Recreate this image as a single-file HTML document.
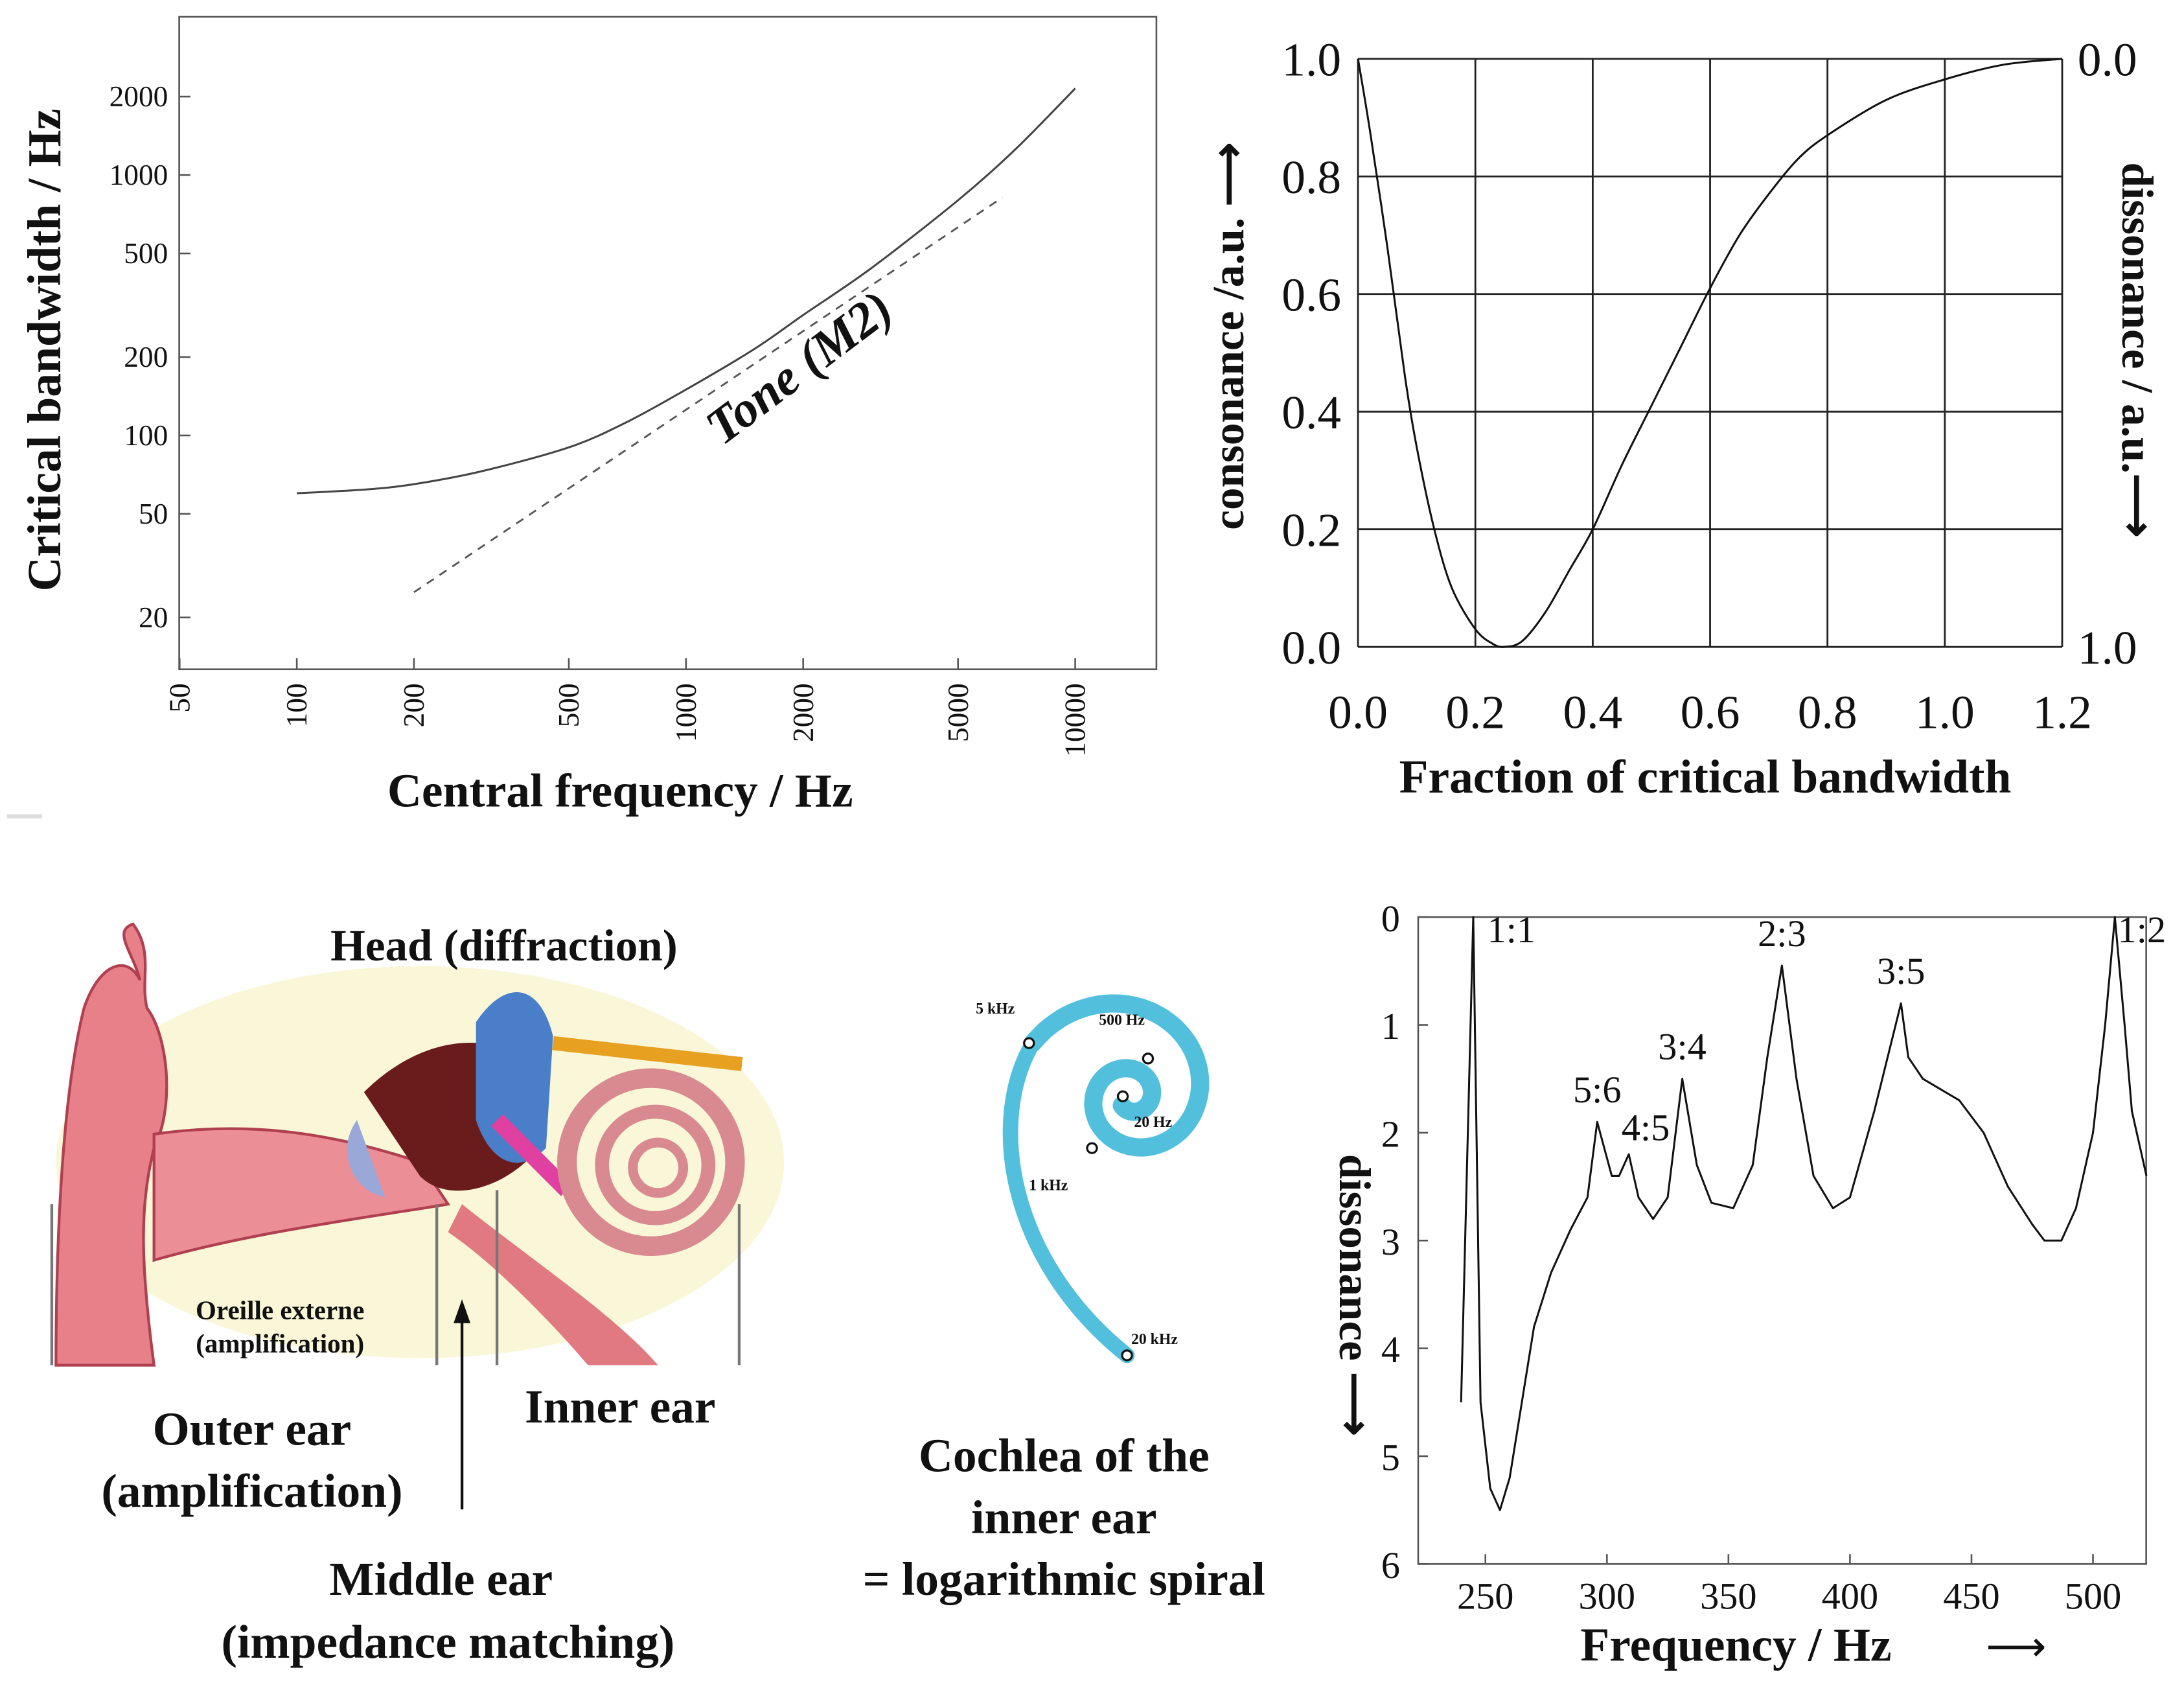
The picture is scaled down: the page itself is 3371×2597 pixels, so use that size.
<!DOCTYPE html>
<html><head><meta charset="utf-8"><style>
html,body{margin:0;padding:0;background:#fff}
svg{display:block}
text{font-family:"Liberation Serif",serif;fill:#111}
</style></head><body>
<svg id="s" width="3371" height="2597" viewBox="0 0 1560 1202" preserveAspectRatio="none" xmlns="http://www.w3.org/2000/svg">
<rect x="0" y="0" width="1560" height="1202" fill="#fff"/>
<line x1="5" y1="583" x2="30" y2="583" stroke="#ddd" stroke-width="3"/>
<g id="tl">
<rect x="128" y="12" width="698" height="466" fill="none" stroke="#555" stroke-width="1.2"/>
<text x="33" y="250" font-size="34" font-weight="bold" text-anchor="middle" transform="rotate(-90 33 250)" dy="10">Critical bandwidth / Hz</text>
<text x="443" y="576" font-size="34" font-weight="bold" text-anchor="middle">Central frequency / Hz</text>
<text x="578" y="272" font-size="36" font-weight="bold" font-style="italic" text-anchor="middle" transform="rotate(-37 578 272)">Tone (M2)</text>
</g>
<g id="tr">
<text x="888" y="240" font-size="32" font-weight="bold" text-anchor="middle" transform="rotate(-90 888 240)">consonance /a.u. ⟶</text>
<text x="1516" y="250" font-size="32" font-weight="bold" text-anchor="middle" transform="rotate(90 1516 250)">dissonance / a.u.⟶</text>
<text x="1218" y="566" font-size="34" font-weight="bold" text-anchor="middle">Fraction of critical bandwidth</text>
</g>
<g id="br">
<rect x="1013" y="655" width="520" height="462" fill="none" stroke="#555" stroke-width="1.2"/>
<text x="955" y="925" font-size="32" font-weight="bold" text-anchor="middle" transform="rotate(90 955 925)" dy="-2">dissonance ⟶</text>
<text x="1240" y="1186" font-size="34" font-weight="bold" text-anchor="middle">Frequency / Hz</text>
<text x="1440" y="1186" font-size="30" text-anchor="middle">⟶</text>
</g>
<g>
<ellipse cx="300" cy="830" rx="260" ry="140" fill="#f6f3c8" opacity="0.7"/>
<path d="M40 975 C40 880 45 780 60 720 C70 690 90 680 100 700 C95 680 80 665 95 660 C110 680 100 700 105 720 C120 740 125 790 110 820 C100 860 100 900 110 975 Z" fill="#e8808a" stroke="#b04050" stroke-width="2"/>
<path d="M110 810 C180 800 240 810 300 830 L320 860 C260 870 180 880 110 900 Z" fill="#ec8e96" stroke="#b04050" stroke-width="2"/>
<path d="M260 780 C300 740 350 735 380 760 L385 820 C360 850 320 860 300 840 Z" fill="#6a1b1b"/>
<path d="M340 730 C360 700 385 700 395 740 L390 820 C370 840 350 830 340 800 Z" fill="#4a7ec8"/>
<path d="M355 800 L405 850" stroke="#e040a0" stroke-width="12"/>
<path d="M330 860 C380 900 440 940 470 975 L420 975 C390 940 350 900 320 880 Z" fill="#e07a80"/>
<path d="M395 745 L530 760" stroke="#e8a020" stroke-width="10"/>
<circle cx="465" cy="830" r="60" fill="none" stroke="#d88a90" stroke-width="14"/>
<circle cx="468" cy="832" r="38" fill="none" stroke="#d88a90" stroke-width="10"/>
<circle cx="470" cy="834" r="18" fill="none" stroke="#d88a90" stroke-width="7"/>
<path d="M255 800 C240 820 250 850 275 855" fill="#9aa8d8"/>
<line x1="37" y1="860" x2="37" y2="975" stroke="#777" stroke-width="2"/>
<line x1="312" y1="860" x2="312" y2="975" stroke="#777" stroke-width="2"/>
<line x1="355" y1="850" x2="355" y2="975" stroke="#777" stroke-width="2"/>
<line x1="528" y1="860" x2="528" y2="975" stroke="#777" stroke-width="2"/>
<text x="360" y="686" font-size="32" font-weight="bold" text-anchor="middle">Head (diffraction)</text>
<text x="200" y="942" font-size="19" font-weight="bold" text-anchor="middle">Oreille externe</text>
<text x="200" y="966" font-size="19" font-weight="bold" text-anchor="middle">(amplification)</text>
<text x="180" y="1032" font-size="34" font-weight="bold" text-anchor="middle">Outer ear</text>
<text x="180" y="1076" font-size="34" font-weight="bold" text-anchor="middle">(amplification)</text>
<text x="443" y="1016" font-size="34" font-weight="bold" text-anchor="middle">Inner ear</text>
<text x="315" y="1139" font-size="34" font-weight="bold" text-anchor="middle">Middle ear</text>
<text x="320" y="1184" font-size="34" font-weight="bold" text-anchor="middle">(impedance matching)</text>
<line x1="330" y1="1078" x2="330" y2="940" stroke="#111" stroke-width="2"/>
<path d="M324 945 L330 928 L336 945 Z" fill="#111"/>
</g>
<g id="coch">
<text x="760" y="1051" font-size="34" font-weight="bold" text-anchor="middle">Cochlea of the</text>
<text x="760" y="1095" font-size="34" font-weight="bold" text-anchor="middle">inner ear</text>
<text x="760" y="1139" font-size="34" font-weight="bold" text-anchor="middle">= logarithmic spiral</text>
</g>
</svg>
<script>
const tlYTicks=[2000,1000,500,200,100,50,20];
const tlXTicks=[50,100,200,500,1000,2000,5000,10000];
const tlSolidF=[100,150,200,300,500,700,1000,1500,2000,3000,5000,7000,10000];
const tlSolidBW=[60,62,65,73,90,112,150,215,290,440,800,1250,2150];
const tlDashF=[200,6500];
const tlDashBW=[25,820];
const trTicks=[0.0,0.2,0.4,0.6,0.8,1.0,1.2];
const trYTicks=[0.0,0.2,0.4,0.6,0.8,1.0];
const trX=[0,0.02,0.05,0.08,0.1,0.13,0.16,0.2,0.23,0.25,0.28,0.32,0.36,0.4,0.45,0.5,0.55,0.6,0.65,0.7,0.75,0.8,0.9,1.0,1.1,1.2];
const trY=[1.0,0.88,0.68,0.46,0.34,0.2,0.1,0.03,0.005,0.0,0.01,0.06,0.13,0.2,0.31,0.41,0.51,0.61,0.7,0.77,0.83,0.87,0.93,0.965,0.99,1.0];
const brXTicks=[250,300,350,400,450,500];
const brYTicks=[0,1,2,3,4,5,6];
const brF=[240,245,248,252,256,260,265,270,277,285,292,296,302,305,309,313,319,325,331,337,343,352,360,366,372,378,385,393,400,410,421,424,430,445,455,465,475,480,487,493,500,505,509,513,516,522];
const brD=[4.5,0,4.5,5.3,5.5,5.2,4.5,3.8,3.3,2.9,2.6,1.9,2.4,2.4,2.2,2.6,2.8,2.6,1.5,2.3,2.65,2.7,2.3,1.3,0.45,1.5,2.4,2.7,2.6,1.8,0.8,1.3,1.5,1.7,2.0,2.5,2.85,3.0,3.0,2.7,2.0,1.0,0.0,1.0,1.8,2.4];
const brLabels=["1:1","2:3","3:5","3:4","5:6","4:5","1:2"];
const brLabelF=[245,372,421,331,296,309,509];
const brLabelD=[0,0.45,0.8,1.5,1.9,2.2,0];

const NS="http://www.w3.org/2000/svg";
function mk(parent,tag,attrs,txt){const e=document.createElementNS(NS,tag);for(const k in attrs)e.setAttribute(k,attrs[k]);if(txt!==undefined)e.textContent=txt;parent.appendChild(e);return e;}
function smooth(pts,tension){
 let d='M'+pts[0][0]+','+pts[0][1];
 for(let i=0;i<pts.length-1;i++){
  const p0=pts[Math.max(0,i-1)],p1=pts[i],p2=pts[i+1],p3=pts[Math.min(pts.length-1,i+2)];
  const t=tension;
  const c1=[p1[0]+(p2[0]-p0[0])*t,p1[1]+(p2[1]-p0[1])*t];
  const c2=[p2[0]-(p3[0]-p1[0])*t,p2[1]-(p3[1]-p1[1])*t];
  d+=' C'+c1[0]+','+c1[1]+' '+c2[0]+','+c2[1]+' '+p2[0]+','+p2[1];
 }
 return d;
}
const xL=f=>212+278*Math.log10(f/100), yL=v=>311-186*Math.log10(v/100);
const xR=x=>970+x/1.2*503, yR=v=>462-v*420;
const xB=f=>1061+(f-250)*1.736, yB=d=>655+d*77;

const tl=document.getElementById('tl');
tlYTicks.forEach(v=>{
 const l=mk(tl,'line',{x1:128,x2:136,y1:yL(v),y2:yL(v),stroke:'#555','stroke-width':1.2});
 
 
 const t=mk(tl,'text',{x:120,y:yL(v)+7,'font-size':21,'text-anchor':'end'},String(v));
 
 
});
tlXTicks.forEach(f=>{
 const x=xL(f);
 const l=mk(tl,'line',{x1:x,x2:x,y1:478,y2:470,stroke:'#555','stroke-width':1.2});
 
 
 const t=mk(tl,'text',{x:x,y:488,'font-size':21,'text-anchor':'end',transform:`rotate(-90 ${x} 488)`,dy:7},String(f));
 
 
});
let p=mk(tl,'path',{d:smooth(tlSolidF.map((f,i)=>[xL(f),yL(tlSolidBW[i])]),0.16),fill:'none',stroke:'#444','stroke-width':1.4});


p=mk(tl,'polyline',{points:tlDashF.map((f,i)=>xL(f)+','+yL(tlDashBW[i])).join(' '),fill:'none',stroke:'#555','stroke-width':1.3,'stroke-dasharray':'6 5'});



const tr=document.getElementById('tr');
trTicks.forEach(v=>{
 const l=mk(tr,'line',{x1:xR(v),x2:xR(v),y1:yR(0),y2:yR(1),stroke:'#222','stroke-width':1.3});
 
 
 const t=mk(tr,'text',{x:xR(v),y:520,'font-size':34,'text-anchor':'middle'},v.toFixed(1));
 
 
});
trYTicks.forEach(v=>{
 const l=mk(tr,'line',{x1:xR(0),x2:xR(1.2),y1:yR(v),y2:yR(v),stroke:'#222','stroke-width':1.3});
 
 
 const t=mk(tr,'text',{x:958,y:yR(v)+12,'font-size':34,'text-anchor':'end'},v.toFixed(1));
 
 
 if(v===0||v===1){
  const t2=mk(tr,'text',{x:1484,y:yR(v)+12,'font-size':34,'text-anchor':'start'},(1-v).toFixed(1));
  
  
 }
});
p=mk(tr,'path',{d:smooth(trX.map((x,i)=>[xR(x),yR(trY[i])]),0.16),fill:'none',stroke:'#111','stroke-width':1.4});



const br=document.getElementById('br');
brXTicks.forEach(f=>{
 const l=mk(br,'line',{x1:xB(f),x2:xB(f),y1:1117,y2:1110,stroke:'#555','stroke-width':1.2});
 
 
 const t=mk(br,'text',{x:xB(f),y:1149,'font-size':27,'text-anchor':'middle'},String(f));
 
 
});
brYTicks.forEach(d=>{
 const l=mk(br,'line',{x1:1013,x2:1020,y1:yB(d),y2:yB(d),stroke:'#555','stroke-width':1.2});
 
 
 const t=mk(br,'text',{x:1000,y:yB(d)+10,'font-size':27,'text-anchor':'end'},String(d));
 
 
});
p=mk(br,'polyline',{points:brF.map((f,i)=>xB(f)+','+yB(brD[i])).join(' '),fill:'none',stroke:'#111','stroke-width':1.4,'stroke-linejoin':'round'});


const offs=[[10,18],[0,-14],[0,-14],[0,-14],[0,-14],[12,-10],[2,18]];
brLabels.forEach((s,i)=>{
 const o=offs[i];
 const t=mk(br,'text',{x:xB(brLabelF[i])+o[0],y:yB(brLabelD[i])+o[1],'font-size':27,'text-anchor':(i===0||i===6)?'start':'middle'},s);
 
 
});

// cochlea spiral
const coch=document.getElementById('coch');
const cx=808,cy=783,tEnd=2*Math.PI+152*Math.PI/180;
let pts=[];
for(let t=tEnd-3.6*Math.PI;t<=tEnd+0.001;t+=0.05){
 const r=80*Math.exp(0.19*(t-tEnd));
 pts.push([cx+r*Math.cos(t),cy-r*Math.sin(t)]);
}
const sp=mk(coch,'polyline',{points:pts.map(q=>q[0].toFixed(1)+','+q[1].toFixed(1)).join(' '),fill:'none',stroke:'#52c0dc','stroke-width':13,'stroke-linecap':'round','stroke-linejoin':'round'});


const ex=pts[pts.length-1];
const sp2=mk(coch,'path',{d:`M${ex[0]} ${ex[1]} C705 800 720 900 805 968`,fill:'none',stroke:'#52c0dc','stroke-width':11,'stroke-linecap':'round'});


[[735,745],[820,756],[802,783],[780,820],[805,968]].forEach(c=>{
 const e=mk(coch,'circle',{cx:c[0],cy:c[1],r:3.5,fill:'#fff',stroke:'#111','stroke-width':1.5});
 
 
});
[["5 kHz",697,724],["500 Hz",785,732],["20 Hz",810,805],["1 kHz",735,850],["20 kHz",808,960]].forEach(a=>{
 const t=mk(coch,'text',{x:a[1],y:a[2],'font-size':11,'font-weight':'bold'},a[0]);
 
 
});
</script>
</body></html>
